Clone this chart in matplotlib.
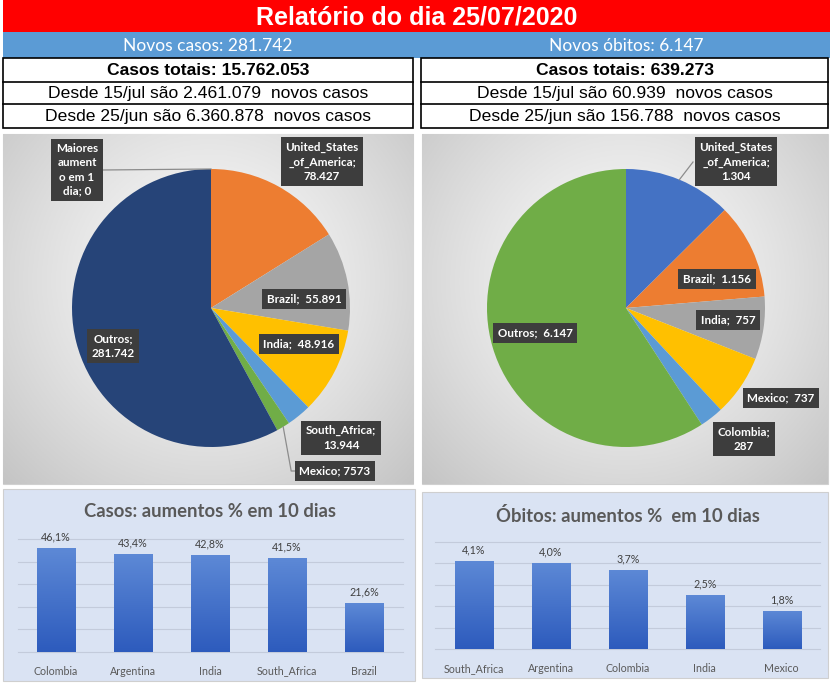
import numpy as np
import matplotlib
matplotlib.use("Agg")
import matplotlib.pyplot as plt
from matplotlib.patches import Rectangle
from matplotlib.colors import LinearSegmentedColormap, to_rgb

# ---------------- data ----------------
report_date = "25/07/2020"
new_cases = 281742
new_deaths = 6147
total_cases = 15762053
total_deaths = 639273
since_jul15 = [2461079, 60939]
since_jun25 = [6360878, 156788]

cases_pie_names = ["Maiores\naument\no em 1\ndia", "United_States\n_of_America", "Brazil",
                   "India", "South_Africa", "Mexico", "Outros"]
cases_pie_values = [0, 78427, 55891, 48916, 13944, 7573, 281742]

deaths_pie_names = ["United_States\n_of_America", "Brazil", "India", "Mexico", "Colombia", "Outros"]
deaths_pie_values = [1304, 1156, 757, 737, 287, 6147]

cases_bar_names = ["Colombia", "Argentina", "India", "South_Africa", "Brazil"]
cases_bar_values = [46.1, 43.4, 42.8, 41.5, 21.6]

deaths_bar_names = ["South_Africa", "Argentina", "Colombia", "India", "Mexico"]
deaths_bar_values = [4.1, 4.0, 3.7, 2.5, 1.8]

cases_bar_title = "Casos: aumentos % em 10 dias"
deaths_bar_title = "Óbitos: aumentos %  em 10 dias"

# ---------------- style / layout ----------------
cases_pie_colors = ['#4472c4', '#ed7d31', '#a5a5a5', '#ffc000', '#5b9bd5', '#70ad47', '#264478']
deaths_pie_colors = ['#4472c4', '#ed7d31', '#a5a5a5', '#ffc000', '#5b9bd5', '#70ad47']

# label centre (px), separator, use thousands separator
cases_label_layout = [((77, 170), "; ", True), ((322, 162), ";\n", True), ((304, 299), ";  ", True),
                      ((299, 344), ";  ", True), ((341, 438), ";\n", True), ((335, 471), "; ", False),
                      ((113, 346), ";\n", True)]
deaths_label_layout = [((736, 162), ";\n", True), ((717, 279), ";  ", True), ((728, 320), ";  ", True),
                       ((781, 398), ";  ", True), ((744, 439), ";\n", True), ((535, 333), ";  ", True)]
cases_leaders = [(0, (102, 170), 'straight'), (5, (297, 471), 'elbow')]
deaths_leaders = [(0, (693, 162), 'straight')]

W, H = 830, 685
plt.rcParams['font.family'] = ['Lato', 'DejaVu Sans']
ARIAL = ['Liberation Sans', 'DejaVu Sans']


def fmt(v):
    return f"{v:,}".replace(",", ".")


def rect(x0, y0, x1, y1):
    return [x0 / W, 1 - y1 / H, (x1 - x0) / W, (y1 - y0) / H]


fig = plt.figure(figsize=(W / 100, H / 100), dpi=100)
bg = fig.add_axes([0, 0, 1, 1])
bg.set_xlim(0, W)
bg.set_ylim(H, 0)
bg.axis('off')

# ---------------- header ----------------
bg.add_patch(Rectangle((3, 0), W - 3, 32, fc='#ff0000', ec='none'))
bg.add_patch(Rectangle((3, 32), W - 3, 26, fc='#5b9bd5', ec='none'))
bg.text(417, 17, f"Relatório do dia {report_date}", ha='center', va='center', color='white',
        fontsize=18, fontweight='bold', family=ARIAL)
bg.text(208, 46, f"Novos casos: {fmt(new_cases)}", ha='center', va='center', color='white',
        fontsize=12.5, fontweight='normal')
bg.text(626, 46, f"Novos óbitos: {fmt(new_deaths)}", ha='center', va='center', color='white',
        fontsize=12.5, fontweight='normal')

totals = [total_cases, total_deaths]
for k, (x0, x1) in enumerate([(3, 413), (421, 828)]):
    bg.add_patch(Rectangle((x0, 58), x1 - x0, 69.5, fc='white', ec='black', lw=1.2))
    for yy in (82, 104):
        bg.plot([x0, x1], [yy, yy], color='black', lw=1.2)
    xc = (x0 + x1) / 2
    bg.text(xc, 70.5, f"Casos totais: {fmt(totals[k])}", ha='center', va='center',
            fontsize=12.6, fontweight='bold', family=ARIAL)
    bg.text(xc, 93.3, f"Desde 15/jul são {fmt(since_jul15[k])}  novos casos", ha='center',
            va='center', fontsize=12.6, family=ARIAL)
    bg.text(xc, 116.5, f"Desde 25/jun são {fmt(since_jun25[k])}  novos casos", ha='center',
            va='center', fontsize=12.6, family=ARIAL)


# ---------------- pies ----------------
def pie_panel(x0, y0, x1, y1, cx, cy, r, values, names, colors, layout, leaders):
    ax = fig.add_axes(rect(x0, y0, x1, y1))
    nx, ny = 240, 200
    X, Y = np.meshgrid(np.linspace(x0, x1, nx), np.linspace(y0, y1, ny))
    gx, gy = (x0 + x1) / 2, y0 + 0.42 * (y1 - y0)
    dmax = np.hypot(max(gx - x0, x1 - gx), max(gy - y0, y1 - gy))
    d = np.clip(np.hypot(X - gx, Y - gy) / dmax, 0, 1) ** 1.3
    light, dark = np.array(to_rgb('#fbfbfb')), np.array(to_rgb('#c4c4c4'))
    img = light[None, None, :] + (dark - light)[None, None, :] * d[..., None]
    ax.imshow(img, extent=(x0, x1, -y1, -y0), origin='upper', aspect='auto', zorder=0)
    wedges, _ = ax.pie(values, colors=colors, startangle=90, counterclock=False,
                       center=(cx, -cy), radius=r, frame=True,
                       wedgeprops=dict(linewidth=0))
    for w in wedges:
        w.set_zorder(2)
    for i, ((lx, ly), sep, thou) in enumerate(layout):
        val = fmt(values[i]) if thou else str(values[i])
        ax.text(lx, -ly, names[i] + sep + val, ha='center', va='center', color='white',
                fontsize=8.4, fontweight='bold', linespacing=1.35, zorder=6,
                bbox=dict(boxstyle='square,pad=0.4', fc='#3d3d3d', ec='none'))
    for idx, (axp, ayp), kind in leaders:
        w = wedges[idx]
        th = np.deg2rad((w.theta1 + w.theta2) / 2)
        ex, ey = cx + r * np.cos(th), -cy + r * np.sin(th)
        if kind == 'straight':
            ax.plot([ex, axp], [ey, -ayp], color='#8c8c8c', lw=0.9, zorder=4)
        else:
            ax.plot([ex, ex + 8, axp], [ey, -ayp, -ayp], color='#8c8c8c', lw=0.9, zorder=4)
    ax.set_xlim(x0, x1)
    ax.set_ylim(-y1, -y0)
    ax.set_aspect('auto')
    ax.axis('off')
    bg.add_patch(Rectangle((x0, y0), x1 - x0, y1 - y0, fc='none', ec='#d0d0d0', lw=0.8))


pie_panel(3, 134, 413, 484, 211, 308, 139, cases_pie_values, cases_pie_names,
          cases_pie_colors, cases_label_layout, cases_leaders)
pie_panel(422, 134, 828, 484, 626, 308, 139, deaths_pie_values, deaths_pie_names,
          deaths_pie_colors, deaths_label_layout, deaths_leaders)

# ---------------- bars ----------------
bar_cmap = LinearSegmentedColormap.from_list('barg', ['#2d5bbd', '#5d89d6'])
grad = np.linspace(0, 1, 256).reshape(-1, 1)


def bar_panel(panel, area, names, values, ymax, step, title, title_xy):
    px0, py0, px1, py1 = panel
    bg.add_patch(Rectangle((px0, py0), px1 - px0, py1 - py0, fc='#dae3f3', ec='#cfcfcf',
                           lw=0.8, zorder=1))
    ax = fig.add_axes(rect(*area))
    ax.patch.set_alpha(0)
    x = np.arange(len(values))
    bars = ax.bar(x, values, width=0.5, color='#4472c4', zorder=3)
    for b in bars:
        bx, by, bw, bh = b.get_x(), b.get_y(), b.get_width(), b.get_height()
        im = ax.imshow(grad, extent=(bx, bx + bw, by, by + bh), origin='lower',
                       cmap=bar_cmap, aspect='auto', zorder=3.5)
        im.set_clip_path(b)
    ax.set_xlim(-0.5, len(values) - 0.5)
    ax.set_ylim(0, ymax)
    ax.set_aspect('auto')
    ax.set_yticks(np.arange(0, ymax + step / 2, step))
    ax.grid(axis='y', color='#c3cbdb', lw=0.8)
    ax.set_axisbelow(True)
    for gl in ax.get_ygridlines():
        gl.set_clip_on(False)
    for s in ax.spines.values():
        s.set_visible(False)
    ax.set_xticks(x, names)
    ax.tick_params(left=False, labelleft=False, bottom=False, pad=6.5,
                   labelsize=7.7, labelcolor='#595959')
    labels = [f"{v:.1f}".replace('.', ',') + '%' for v in values]
    ax.bar_label(bars, labels=labels, padding=4, fontsize=7.7, color='#404040')
    bg.text(title_xy[0], title_xy[1], title, ha='center', va='center', fontsize=13.3,
            fontweight='bold', color='#595959', zorder=5)


bar_panel((3, 489, 415, 681), (17.5, 539, 402.5, 651.7), cases_bar_names, cases_bar_values,
          50, 10, cases_bar_title, (210, 511.5))
bar_panel((422, 492, 828, 678), (435.3, 541.6, 820.3, 649.3), deaths_bar_names,
          deaths_bar_values, 5, 1, deaths_bar_title, (627.5, 515.5))

fig.savefig("out.png", dpi=100)
